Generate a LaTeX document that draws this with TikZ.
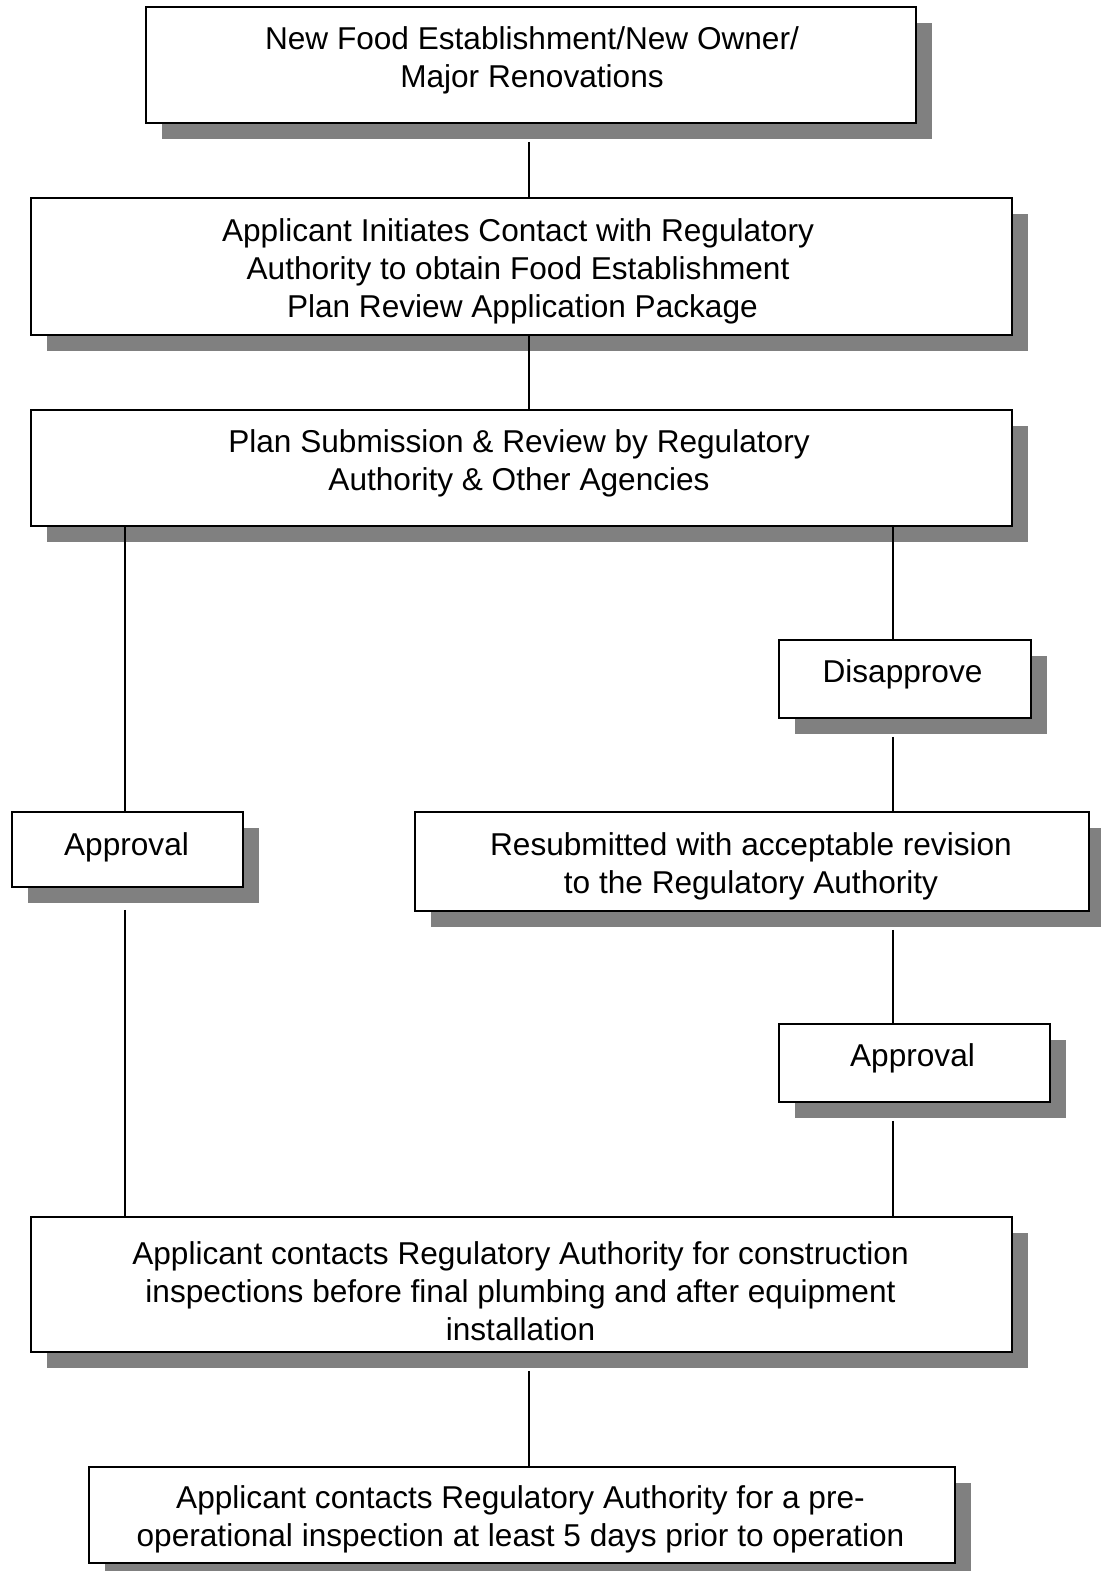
\documentclass[tikz,border=0pt]{standalone}
\usepackage{fontspec}
\setmainfont{Liberation Sans}
\usetikzlibrary{shadows,calc}
\definecolor{shadowgray}{RGB}{128,128,128}
\begin{document}
\begin{tikzpicture}[x=1pt,y=-1pt,
  box/.style={draw=black, line width=1.6pt, fill=white, rectangle, inner sep=0pt,
    general shadow={fill=shadowgray, shadow xshift=16pt, shadow yshift=-16pt}},
  txt/.style={align=center, inner sep=0pt, font=\fontsize{31.6}{38}\selectfont},
  link/.style={draw=black, line width=1.3pt},
  aftershadow/.style={shorten <=18pt}]
\useasboundingbox (0,0) rectangle (1100,1571);
% boxes
\node[box, minimum width=770pt, minimum height=116pt] (b1) at (531,65) {};
\node[box, minimum width=981pt, minimum height=137pt] (b2) at (521.5,266.5) {};
\node[box, minimum width=981pt, minimum height=116pt] (b3) at (521.5,468) {};
\node[box, minimum width=252pt, minimum height=78pt] (dis) at (905,679) {};
\node[box, minimum width=231pt, minimum height=75pt] (apl) at (127.5,849.5) {};
\node[box, minimum width=674pt, minimum height=99pt] (res) at (752,861.5) {};
\node[box, minimum width=271pt, minimum height=78pt] (apr) at (914.5,1063) {};
\node[box, minimum width=981pt, minimum height=135pt] (con) at (521.5,1284.5) {};
\node[box, minimum width=866pt, minimum height=96pt] (last) at (522,1515) {};
% texts
\node[txt] (t1) at (532,60) {New Food Establishment/New Owner/\\Major Renovations};
\node[txt] (t2) at (518,271.5) {Applicant Initiates Contact with Regulatory\\Authority to obtain Food Establishment\\\ Plan Review Application Package};
\node[txt] (t3) at (519,463) {Plan Submission \& Review by Regulatory\\Authority \& Other Agencies};
\node[txt] (t4) at (902.5,674) {Disapprove};
\node[txt] (t5) at (126.5,847) {Approval};
\node[txt] (t6) at (751,866.5) {Resubmitted with acceptable revision\\to the Regulatory Authority};
\node[txt] (t7) at (912.5,1058) {Approval};
\node[txt] (t8) at (520.5,1291.5) {Applicant contacts Regulatory Authority for construction\\inspections before final plumbing and after equipment\\installation};
\node[txt] (t9) at (520.5,1519) {Applicant contacts Regulatory Authority for a pre-\\operational inspection at least 5 days prior to operation};
% connector x positions
\coordinate (xm) at (529,0);
\coordinate (xl) at (125,0);
\coordinate (xr) at (893,0);
% connectors
\draw[link, aftershadow] (b1.south -| xm) -- (b2.north -| xm);
\draw[link] (b2.south -| xm) -- (b3.north -| xm);
\draw[link] (b3.south -| xl) -- (apl.north -| xl);
\draw[link] (b3.south -| xr) -- (dis.north -| xr);
\draw[link, aftershadow] (dis.south -| xr) -- (res.north -| xr);
\draw[link, aftershadow] (res.south -| xr) -- (apr.north -| xr);
\draw[link, shorten <=22pt] (apl.south -| xl) -- (con.north -| xl);
\draw[link, aftershadow] (apr.south -| xr) -- (con.north -| xr);
\draw[link, aftershadow] (con.south -| xm) -- (last.north -| xm);
\end{tikzpicture}
\end{document}
